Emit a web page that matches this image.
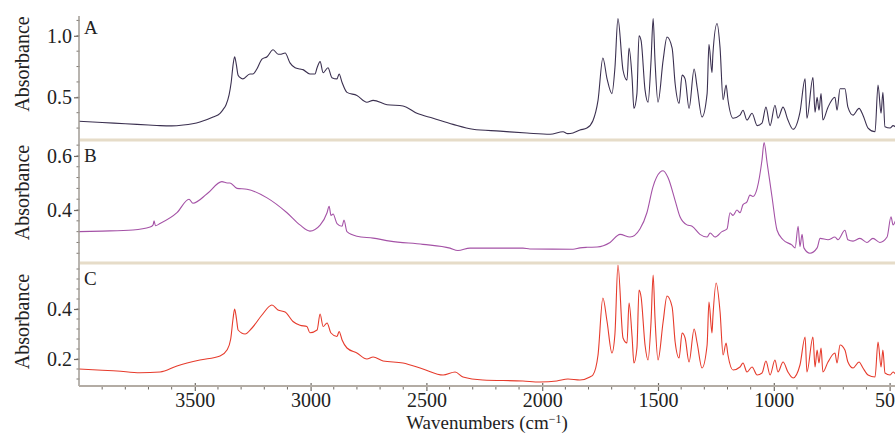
<!DOCTYPE html>
<html>
<head>
<meta charset="utf-8">
<script src="https://cdn.jsdelivr.net/npm/d3@7"></script>
<style>
  body { margin: 0; background: #fff; }
  text { font-family: 'Liberation Serif', 'Times New Roman', serif; fill: #222; }
</style>
</head>
<body>
<div id="chart"></div>
<script>
// spectra as [wavenumber, absorbance]
let spectrumA = [
  [4000, 0.306], [3900, 0.295], [3800, 0.285], [3700, 0.275], [3650, 0.27], [3600, 0.268],
  [3550, 0.275], [3478, 0.3], [3421, 0.34], [3391, 0.37], [3378, 0.4], [3365, 0.44],
  [3352, 0.52], [3343, 0.62], [3335, 0.76], [3328, 0.83], [3321, 0.77], [3313, 0.68],
  [3300, 0.655], [3292, 0.65], [3262, 0.69], [3249, 0.69], [3232, 0.73], [3210, 0.81],
  [3188, 0.83], [3162, 0.887], [3140, 0.85], [3132, 0.85], [3110, 0.86], [3089, 0.78],
  [3067, 0.74], [3046, 0.73], [3033, 0.725], [3003, 0.69], [2981, 0.69], [2972, 0.74],
  [2959, 0.79], [2946, 0.7], [2925, 0.74], [2908, 0.66], [2886, 0.65], [2877, 0.69],
  [2864, 0.62], [2843, 0.54], [2800, 0.515], [2757, 0.46], [2730, 0.475], [2670, 0.44],
  [2601, 0.43], [2541, 0.37], [2471, 0.33], [2385, 0.28], [2299, 0.24], [2182, 0.225],
  [2066, 0.21], [1966, 0.2], [1910, 0.22], [1890, 0.205], [1867, 0.21], [1837, 0.234],
  [1807, 0.25], [1781, 0.31], [1759, 0.475], [1738, 0.82], [1720, 0.65], [1699, 0.53],
  [1686, 0.74], [1673, 1.14], [1651, 0.72], [1634, 0.64], [1625, 0.9], [1612, 0.66],
  [1604, 0.41], [1591, 0.53], [1582, 1.0], [1573, 0.96], [1556, 0.56], [1543, 0.46],
  [1530, 0.8], [1521, 1.14], [1513, 0.8], [1500, 0.46], [1478, 0.8], [1461, 0.99],
  [1439, 0.9], [1426, 0.61], [1409, 0.45], [1396, 0.68], [1383, 0.65], [1366, 0.41],
  [1344, 0.73], [1331, 0.58], [1310, 0.34], [1288, 0.53], [1280, 0.93], [1267, 0.7],
  [1263, 0.85], [1245, 1.1], [1232, 0.9], [1219, 0.48], [1206, 0.6], [1198, 0.48],
  [1176, 0.33], [1146, 0.355], [1133, 0.395], [1116, 0.315], [1094, 0.37], [1072, 0.27],
  [1051, 0.29], [1034, 0.42], [1016, 0.27], [995, 0.435], [982, 0.33], [960, 0.42],
  [939, 0.315], [917, 0.24], [887, 0.38], [865, 0.65], [857, 0.33], [831, 0.66],
  [822, 0.38], [813, 0.5], [805, 0.395], [796, 0.53], [788, 0.315], [766, 0.42],
  [736, 0.5], [727, 0.395], [714, 0.57], [693, 0.57], [680, 0.42], [658, 0.355],
  [632, 0.41], [615, 0.355], [593, 0.25], [563, 0.22], [550, 0.6], [537, 0.37],
  [529, 0.54], [520, 0.26], [498, 0.25], [485, 0.27], [475, 0.26]
]

let spectrumB = [
  [4000, 0.32], [3900, 0.322], [3767, 0.326], [3693, 0.337], [3680, 0.345], [3676, 0.36],
  [3670, 0.342], [3650, 0.35], [3577, 0.39], [3525, 0.44], [3508, 0.425], [3447, 0.46],
  [3383, 0.505], [3360, 0.5], [3348, 0.5], [3318, 0.48], [3275, 0.477], [3188, 0.445],
  [3102, 0.39], [3046, 0.345], [3003, 0.322], [2959, 0.344], [2929, 0.39], [2920, 0.414],
  [2912, 0.38], [2903, 0.385], [2886, 0.35], [2864, 0.34], [2856, 0.363], [2843, 0.32],
  [2800, 0.303], [2730, 0.296], [2657, 0.285], [2515, 0.273], [2398, 0.259], [2364, 0.25],
  [2312, 0.259], [2083, 0.259], [2053, 0.256], [1867, 0.255], [1837, 0.26], [1807, 0.262],
  [1763, 0.263], [1707, 0.28], [1664, 0.31], [1621, 0.3], [1578, 0.33], [1548, 0.39],
  [1522, 0.485], [1491, 0.54], [1478, 0.545], [1457, 0.52], [1426, 0.435], [1405, 0.375],
  [1375, 0.345], [1353, 0.34], [1319, 0.31], [1288, 0.3], [1275, 0.315], [1254, 0.3],
  [1224, 0.32], [1202, 0.33], [1189, 0.39], [1176, 0.38], [1159, 0.4], [1146, 0.39],
  [1133, 0.42], [1116, 0.43], [1103, 0.455], [1090, 0.45], [1072, 0.48], [1051, 0.585],
  [1042, 0.65], [1029, 0.575], [1008, 0.45], [986, 0.325], [960, 0.29], [921, 0.27],
  [908, 0.26], [895, 0.34], [887, 0.265], [878, 0.31], [870, 0.26], [844, 0.24],
  [813, 0.26], [800, 0.295], [766, 0.29], [736, 0.3], [723, 0.29], [693, 0.325],
  [680, 0.29], [658, 0.285], [628, 0.295], [598, 0.28], [572, 0.295], [542, 0.28],
  [511, 0.3], [494, 0.375], [485, 0.345], [475, 0.36]
]

let spectrumC = [
  [4000, 0.16], [3900, 0.155], [3836, 0.152], [3737, 0.145], [3650, 0.148], [3577, 0.172],
  [3478, 0.196], [3391, 0.212], [3361, 0.236], [3345, 0.28], [3335, 0.36], [3328, 0.4],
  [3320, 0.36], [3313, 0.316],
  [3283, 0.3], [3253, 0.324], [3210, 0.376], [3167, 0.416], [3141, 0.396], [3110, 0.388],
  [3076, 0.35], [3046, 0.335], [3016, 0.33], [3003, 0.305], [2972, 0.316], [2959, 0.38],
  [2946, 0.33], [2929, 0.344], [2912, 0.304], [2886, 0.29], [2877, 0.31], [2864, 0.276],
  [2843, 0.244], [2800, 0.224], [2757, 0.2], [2730, 0.208], [2687, 0.192], [2601, 0.184],
  [2515, 0.16], [2428, 0.136], [2376, 0.148], [2342, 0.128], [2256, 0.116], [2083, 0.112],
  [2010, 0.108], [1937, 0.112], [1889, 0.12], [1837, 0.116], [1794, 0.128], [1781, 0.136],
  [1759, 0.216], [1738, 0.444], [1720, 0.35], [1699, 0.224], [1686, 0.3], [1673, 0.576],
  [1651, 0.284], [1634, 0.264], [1625, 0.424], [1612, 0.29], [1604, 0.184], [1591, 0.244],
  [1582, 0.476], [1573, 0.448], [1556, 0.256], [1543, 0.196], [1530, 0.35], [1521, 0.536],
  [1513, 0.364], [1500, 0.196], [1478, 0.348], [1461, 0.452], [1439, 0.408], [1426, 0.268],
  [1409, 0.204], [1396, 0.304], [1383, 0.284], [1366, 0.188], [1344, 0.32], [1331, 0.264],
  [1310, 0.164], [1288, 0.256], [1280, 0.428], [1267, 0.304], [1263, 0.368], [1249, 0.504],
  [1232, 0.388], [1219, 0.216], [1206, 0.264], [1198, 0.216], [1176, 0.156], [1146, 0.168],
  [1133, 0.184], [1116, 0.148], [1094, 0.168], [1072, 0.136], [1051, 0.144], [1034, 0.192],
  [1016, 0.136], [995, 0.196], [982, 0.148], [960, 0.188], [939, 0.148], [917, 0.124],
  [887, 0.176], [865, 0.288], [857, 0.148], [831, 0.288], [822, 0.168], [813, 0.236],
  [805, 0.184], [796, 0.244], [788, 0.148], [766, 0.188], [736, 0.224], [727, 0.184],
  [714, 0.256], [693, 0.236], [680, 0.188], [658, 0.164], [632, 0.188], [615, 0.164],
  [593, 0.136], [563, 0.128], [550, 0.268], [537, 0.168], [529, 0.236], [520, 0.144],
  [498, 0.136], [485, 0.148], [475, 0.14]
]

let panelNames = ['A', 'B', 'C']
let panelColors = ['#3b3050', '#a452a6', '#e63b2c']
let yDomains = [[0.153, 1.161], [0.204, 0.659], [0.092, 0.584]]
let yMajorTicks = [[0.5, 1.0], [0.4, 0.6], [0.2, 0.4]]
let yMinorStep = [0.125, 0.04, 0.04]
let xMajorTicks = [3500, 3000, 2500, 2000, 1500, 1000, 500]

let width = 895
let height = 434
let left = 79
let tops = [16, 140, 263]
let bottoms = [140, 263, 386]

let svg = d3
  .select('#chart')
  .append('svg')
  .attr('width', width)
  .attr('height', height)

let x = d3
  .scaleLinear()
  .domain([4000, 475])
  .range([left, width + 0.4])

svg
  .append('defs')
  .append('clipPath')
  .attr('id', 'clip')
  .append('rect')
  .attr('x', left)
  .attr('y', 0)
  .attr('width', width - left)
  .attr('height', bottoms[2])

let spectra = [spectrumA, spectrumB, spectrumC]

spectra.forEach((data, i) => {
  let y = d3
    .scaleLinear()
    .domain(yDomains[i])
    .range([bottoms[i], tops[i]])

  // minor ticks
  let minor = d3.range(
    Math.ceil(yDomains[i][0] / yMinorStep[i]) * yMinorStep[i],
    yDomains[i][1],
    yMinorStep[i]
  )
  svg
    .append('g')
    .selectAll('line')
    .data(minor)
    .enter()
    .append('line')
    .attr('x1', left - 2.5)
    .attr('x2', left + 0.5)
    .attr('y1', d => y(d))
    .attr('y2', d => y(d))
    .attr('stroke', '#7d7770')
    .attr('stroke-width', 1)

  // major ticks and labels
  let axis = d3
    .axisLeft(y)
    .tickValues(yMajorTicks[i])
    .tickFormat(d3.format('.1f'))
    .tickSize(5)
    .tickPadding(2)
  let g = svg
    .append('g')
    .attr('transform', `translate(${left}, 0)`)
    .call(axis)
  g.select('.domain').remove()
  g.selectAll('.tick line').attr('stroke', '#6f6a64').attr('stroke-width', 1.2)
  g.selectAll('.tick text')
    .style('font-family', "'Liberation Serif', serif")
    .style('font-size', '20px')
    .attr('fill', '#222')

  // the spectrum
  let line = d3
    .line()
    .curve(d3.curveMonotoneX)
    .x(d => x(d[0]))
    .y(d => y(d[1]))
  svg
    .append('path')
    .datum(data)
    .attr('clip-path', 'url(#clip)')
    .attr('d', line)
    .attr('fill', 'none')
    .attr('stroke', panelColors[i])
    .attr('stroke-width', 1.1)
    .attr('stroke-linejoin', 'round')

  // panel letter
  svg
    .append('text')
    .attr('x', left + 5)
    .attr('y', tops[i] + (i === 0 ? 18 : 22))
    .style('font-size', '19px')
    .text(panelNames[i])

  // y title
  svg
    .append('text')
    .attr('transform', `translate(29, ${(tops[i] + bottoms[i]) / 2 - (i === 0 ? 14 : i === 1 ? 9 : 3)}) rotate(-90)`)
    .attr('text-anchor', 'middle')
    .style('font-size', '20px')
    .text('Absorbance')
})

// tan separators between panels
svg
  .append('g')
  .selectAll('line')
  .data([bottoms[0], bottoms[1]])
  .enter()
  .append('line')
  .attr('x1', left + 1)
  .attr('x2', width)
  .attr('y1', d => d)
  .attr('y2', d => d)
  .attr('stroke', '#e6dcc8')
  .attr('stroke-width', 3)

// left axis line
svg
  .append('line')
  .attr('x1', left)
  .attr('x2', left)
  .attr('y1', 16)
  .attr('y2', bottoms[2])
  .attr('stroke', '#a19b94')
  .attr('stroke-width', 1.5)

// bottom axis
let xMinor = d3.range(3900, 475, -100).filter(d => d % 500 !== 0)
svg
  .append('g')
  .selectAll('line')
  .data(xMinor)
  .enter()
  .append('line')
  .attr('x1', d => x(d))
  .attr('x2', d => x(d))
  .attr('y1', bottoms[2])
  .attr('y2', bottoms[2] + 3.5)
  .attr('stroke', '#6f6a64')
  .attr('stroke-width', 1)

let xAxis = d3
  .axisBottom(x)
  .tickValues(xMajorTicks)
  .tickFormat(d3.format('d'))
  .tickSize(5)
  .tickPadding(2)
let gx = svg
  .append('g')
  .attr('transform', `translate(0, ${bottoms[2]})`)
  .call(xAxis)
gx.select('.domain').remove()
gx.selectAll('.tick line').attr('y1', -3).attr('stroke', '#6f6a64').attr('stroke-width', 1.2)
gx.selectAll('.tick text')
  .style('font-family', "'Liberation Serif', serif")
  .style('font-size', '20px')
  .attr('fill', '#222')

svg
  .append('line')
  .attr('x1', left)
  .attr('x2', width)
  .attr('y1', bottoms[2])
  .attr('y2', bottoms[2])
  .attr('stroke', '#b3aca4')
  .attr('stroke-width', 2)

let xTitle = svg
  .append('text')
  .attr('x', (left + width) / 2)
  .attr('y', 429)
  .attr('text-anchor', 'middle')
  .style('font-size', '19px')
xTitle.append('tspan').text('Wavenumbers (cm')
xTitle.append('tspan').attr('dy', -6).style('font-size', '12px').text('−1')
xTitle.append('tspan').attr('dy', 6).text(')')
</script>
</body>
</html>
